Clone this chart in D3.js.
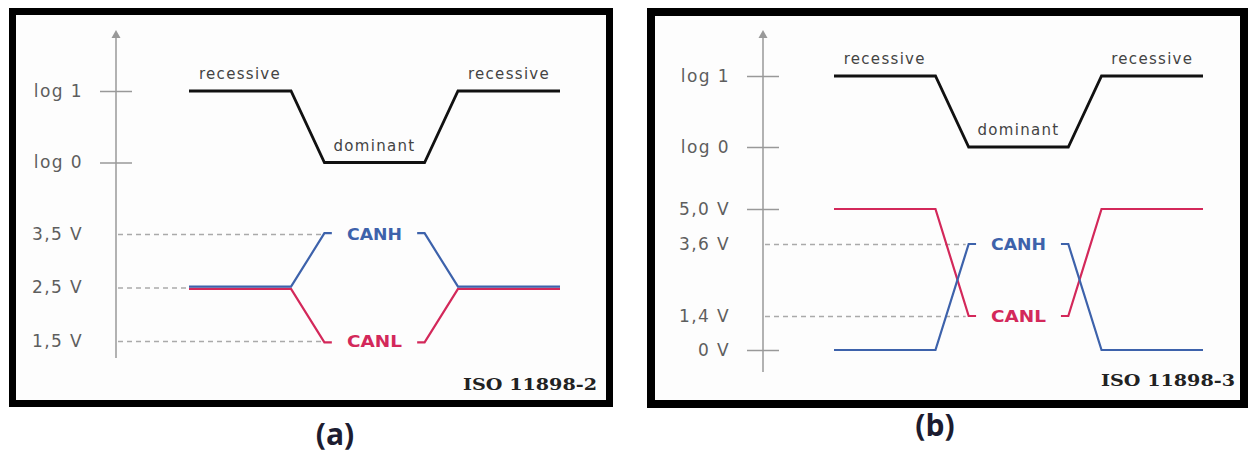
<!DOCTYPE html>
<html lang="en">
<head>
<meta charset="UTF-8">
<title>CAN bus levels</title>
<script src="https://cdn.jsdelivr.net/npm/d3@7"></script>
<style>
  body { margin: 0; background: #fff; }
  text { font-family: "DejaVu Sans", Verdana, sans-serif; }
</style>
</head>
<body>
<script>
// ---- data ----
const panelNames = ["(a)", "(b)"];
const standards = ["ISO 11898-2", "ISO 11898-3"];

// logic level of the bus over time
const busTime = [0, 2.75, 3.65, 6.35, 7.25, 10];
const busLogic = [1, 1, 0, 0, 1, 1];
const stateNames = ["recessive", "dominant", "recessive"];
const stateTime = [1.375, 5, 8.625];
const stateLogic = [1, 0, 1];
const logicTicks = [1, 0];
const logicTickLabels = ["log 1", "log 0"];

// CAN wire voltages (null = gap for the label)
const signalNames = ["CANH", "CANL"];
const canTime = [0, 2.75, 3.65, 3.85, 5, 6.15, 6.35, 7.25, 10];
const canH_a = [2.5, 2.5, 3.5, 3.5, null, 3.5, 3.5, 2.5, 2.5];
const canL_a = [2.5, 2.5, 1.5, 1.5, null, 1.5, 1.5, 2.5, 2.5];
const canH_b = [0, 0, 3.6, 3.6, null, 3.6, 3.6, 0, 0];
const canL_b = [5, 5, 1.4, 1.4, null, 1.4, 1.4, 5, 5];

const voltTicks_a = [3.5, 2.5, 1.5];
const voltLabels_a = ["3,5 V", "2,5 V", "1,5 V"];
const voltTicks_b = [5, 3.6, 1.4, 0];
const voltLabels_b = ["5,0 V", "3,6 V", "1,4 V", "0 V"];

const blue = "#3d62ab", red = "#d3285a";

const svg = d3.select("body").append("svg")
    .attr("width", 1249).attr("height", 454);

// layout of each panel
const panels = [
  { name: panelNames[0], iso: standards[0],
    frame: [9, 8, 613, 407], frameW: 7,
    axisX: 116, axisTop: 30, axisBottom: 358,
    xRange: [189, 560], logicRange: [162.5, 91],
    voltDomain: [1.5, 3.5], voltRange: [341, 234],
    volts: voltTicks_a, voltLabels: voltLabels_a, dashed: voltTicks_a,
    canH: canH_a, canL: canL_a, overlap: true,
    caption: [335, 433], isoPos: [597, 384] },
  { name: panelNames[1], iso: standards[1],
    frame: [647, 8, 1248, 408], frameW: 8,
    axisX: 763, axisTop: 30, axisBottom: 372,
    xRange: [834, 1203], logicRange: [147, 76],
    voltDomain: [0, 1.4, 3.6, 5], voltRange: [350, 316, 244, 209],
    volts: voltTicks_b, voltLabels: voltLabels_b, dashed: [3.6, 1.4],
    canH: canH_b, canL: canL_b, overlap: false,
    caption: [935, 424], isoPos: [1235, 380] }
];

panels.forEach(function(p) {
  const g = svg.append("g");
  const fw = p.frameW;

  // frame
  g.append("rect")
    .attr("x", p.frame[0] + fw / 2).attr("y", p.frame[1] + fw / 2)
    .attr("width", p.frame[2] - p.frame[0] - fw)
    .attr("height", p.frame[3] - p.frame[1] - fw)
    .attr("fill", "#fdfdfd").attr("stroke", "#000").attr("stroke-width", fw);

  // scales
  const x = d3.scaleLinear().domain([0, 10]).range(p.xRange);
  const yLog = d3.scaleLinear().domain([0, 1]).range(p.logicRange);
  const yV = d3.scaleLinear().domain(p.voltDomain).range(p.voltRange);

  // vertical axis with arrow
  g.append("line")
    .attr("x1", p.axisX).attr("x2", p.axisX)
    .attr("y1", p.axisBottom).attr("y2", p.axisTop + 6)
    .attr("stroke", "#999").attr("stroke-width", 1.5);
  g.append("path")
    .attr("d", d3.line()([[p.axisX - 4.5, p.axisTop + 8], [p.axisX, p.axisTop], [p.axisX + 4.5, p.axisTop + 8]]) + "Z")
    .attr("fill", "#999");

  // logic axis
  const logAxis = g.append("g")
    .attr("transform", "translate(" + p.axisX + ",0)")
    .call(d3.axisLeft(yLog).tickValues(logicTicks)
      .tickFormat(function(d, i) { return logicTickLabels[i]; })
      .tickSize(0).tickPadding(33));
  logAxis.select(".domain").remove();
  logAxis.selectAll(".tick line")
    .attr("x1", -16).attr("x2", 16)
    .attr("stroke", "#999").attr("stroke-width", 1.5);

  // voltage axis
  const vAxis = g.append("g")
    .attr("transform", "translate(" + p.axisX + ",0)")
    .call(d3.axisLeft(yV).tickValues(p.volts)
      .tickFormat(function(d, i) { return p.voltLabels[i]; })
      .tickSize(0).tickPadding(33));
  vAxis.select(".domain").remove();
  vAxis.selectAll(".tick line").each(function(d) {
    const ln = d3.select(this);
    if (p.dashed.indexOf(d) >= 0) {
      // dashed guide runs to where a wire first reaches this level
      let idx = p.canH.indexOf(d);
      if (idx < 0) idx = p.canL.indexOf(d);
      ln.attr("x1", 2).attr("x2", x(canTime[idx]) - p.axisX - 3)
        .attr("stroke", "#aaa").attr("stroke-width", 1.5)
        .attr("stroke-dasharray", "5,4");
    } else {
      ln.attr("x1", -16).attr("x2", 16)
        .attr("stroke", "#999").attr("stroke-width", 1.5);
    }
  });

  [logAxis, vAxis].forEach(function(a) {
    a.attr("font-family", null).attr("font-size", null);
    a.selectAll(".tick text")
      .attr("fill", "#5e5e5e").style("font-size", "17px")
      .style("letter-spacing", "1.4px");
  });

  // logic waveform
  g.append("path")
    .datum(busTime.map(function(t, i) { return [t, busLogic[i]]; }))
    .attr("fill", "none").attr("stroke", "#111").attr("stroke-width", 2.8)
    .attr("d", d3.line().x(function(d) { return x(d[0]); })
                        .y(function(d) { return yLog(d[1]); }));

  g.selectAll(".state").data(stateNames).enter().append("text")
    .attr("x", function(d, i) { return x(stateTime[i]); })
    .attr("y", function(d, i) { return yLog(stateLogic[i]) - 17; })
    .attr("text-anchor", "middle").attr("dominant-baseline", "central")
    .attr("fill", "#444").style("font-size", "15px")
    .style("letter-spacing", "1.3px")
    .text(function(d) { return d; });

  // CAN wires
  const wire = d3.line()
    .defined(function(d) { return d[1] !== null; })
    .x(function(d) { return x(d[0]); })
    .y(function(d) { return yV(d[1]); });
  const series = [
    { vals: p.canL, color: red, dy: p.overlap ? 1.3 : 0 },
    { vals: p.canH, color: blue, dy: p.overlap ? -0.8 : 0 }
  ];
  series.forEach(function(s) {
    g.append("path")
      .datum(canTime.map(function(t, i) { return [t, s.vals[i]]; }))
      .attr("transform", "translate(0," + s.dy + ")")
      .attr("fill", "none").attr("stroke", s.color).attr("stroke-width", 2.2)
      .attr("d", wire);
  });

  // wire names in the gap
  const gapIdx = p.canH.indexOf(null);
  g.selectAll(".sig").data(signalNames).enter().append("text")
    .attr("x", x(canTime[gapIdx]))
    .attr("y", function(d, i) { return yV((i === 0 ? p.canH : p.canL)[gapIdx - 1]) + 1; })
    .attr("text-anchor", "middle").attr("dominant-baseline", "central")
    .attr("fill", function(d, i) { return i === 0 ? blue : red; })
    .style("font-size", "15px").style("font-weight", "bold")
    .attr("textLength", 55).attr("lengthAdjust", "spacingAndGlyphs")
    .text(function(d) { return d; });

  // standard name
  g.append("text")
    .attr("x", p.isoPos[0]).attr("y", p.isoPos[1])
    .attr("text-anchor", "end").attr("dominant-baseline", "central")
    .attr("fill", "#222")
    .style("font-family", "'DejaVu Serif', serif")
    .style("font-size", "16px").style("font-weight", "bold")
    .attr("textLength", 134).attr("lengthAdjust", "spacingAndGlyphs")
    .text(p.iso);

  // caption
  g.append("text")
    .attr("x", p.caption[0]).attr("y", p.caption[1])
    .attr("text-anchor", "middle").attr("dominant-baseline", "central")
    .attr("fill", "#1c1c30")
    .style("font-family", "'Open Sans', sans-serif")
    .style("font-size", "30px").style("font-weight", "bold")
    .text(p.name);
});
</script>
</body>
</html>
